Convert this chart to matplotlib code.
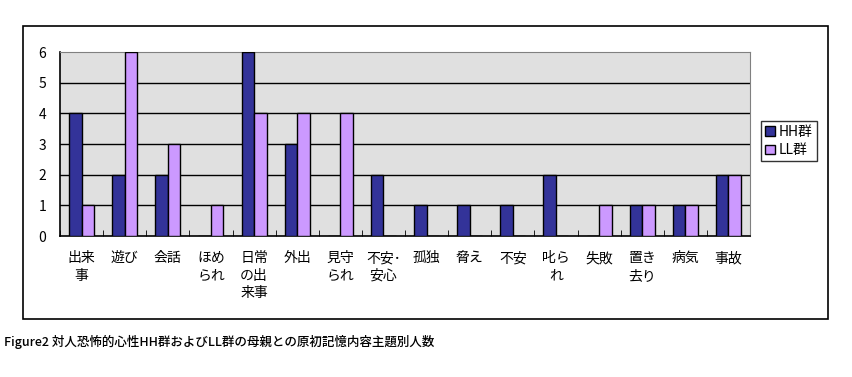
import numpy as np
import matplotlib
matplotlib.use('Agg')
import matplotlib.pyplot as plt
from matplotlib.patches import Rectangle

plt.rcParams['font.family'] = ['Noto Sans CJK JP', 'DejaVu Sans']

categories = ['出来\n事', '遊び', '会話', 'ほめ\nられ', '日常\nの出\n来事', '外出', '見守\nられ',
              '不安･\n安心', '孤独', '脅え', '不安', '叱ら\nれ', '失敗', '置き\n去り', '病気', '事故']
hh_values = [4, 2, 2, 0, 6, 3, 0, 2, 1, 1, 1, 2, 0, 1, 1, 2]
ll_values = [1, 6, 3, 1, 4, 4, 4, 0, 0, 0, 0, 0, 1, 1, 1, 2]
series_names = ['HH群', 'LL群']
y_ticks = [0, 1, 2, 3, 4, 5, 6]
caption = 'Figure2 対人恐怖的心性HH群およびLL群の母親との原初記憶内容主題別人数'

W, H = 852, 377
fig = plt.figure(figsize=(W / 100, H / 100), dpi=100)

# outer chart border
fig.patches.append(Rectangle((23 / W, 1 - 319 / H), (828 - 23) / W, (319 - 26) / H,
                             transform=fig.transFigure, fill=False, ec='black', lw=1.2))

ax = fig.add_axes([60 / W, 1 - 236 / H, (750 - 60) / W, (236 - 52) / H])
ax.set_facecolor('#e0e0e0')

x = np.arange(len(categories))
bw = 0.29
ax.bar(x - bw / 2, hh_values, bw, color='#333399', edgecolor='black', lw=1, label=series_names[0], zorder=3)
ax.bar(x + bw / 2, ll_values, bw, color='#cc99ff', edgecolor='black', lw=1, label=series_names[1], zorder=3)

ax.set_xlim(-0.5, len(categories) - 0.5)
ax.set_ylim(0, 6)
ax.set_yticks(y_ticks)
ax.set_yticklabels([str(v) for v in y_ticks], fontsize=10)
ax.tick_params(axis='y', length=0, pad=10)
for v in y_ticks[1:-1]:
    ax.axhline(v, color='black', lw=1, zorder=1)

ax.set_xticks(x)
ax.set_xticklabels(categories, fontsize=10, linespacing=1.3, va='top')
ax.tick_params(axis='x', length=0, pad=11)
ax.set_xticks(np.arange(-0.5, len(categories)), minor=True)
ax.tick_params(axis='x', which='minor', direction='in', length=4, color='black')

for s in ['top', 'right']:
    ax.spines[s].set_color('#808080')
for s in ['left', 'bottom']:
    ax.spines[s].set_color('black')
    ax.spines[s].set_linewidth(1.2)

leg = ax.legend(loc='upper left', bbox_to_anchor=(761 / W, 1 - 121 / H), bbox_transform=fig.transFigure,
                fontsize=10, frameon=True, fancybox=False, handlelength=0.7, handleheight=0.7,
                handletextpad=0.3, borderpad=0.3, labelspacing=0.3, borderaxespad=0)
leg.get_frame().set_edgecolor('black')
leg.get_frame().set_linewidth(1)

fig.text(4 / W, 1 - 342 / H, caption, fontsize=9, fontweight='medium', va='center', ha='left')

fig.savefig('out.png', dpi=100)
